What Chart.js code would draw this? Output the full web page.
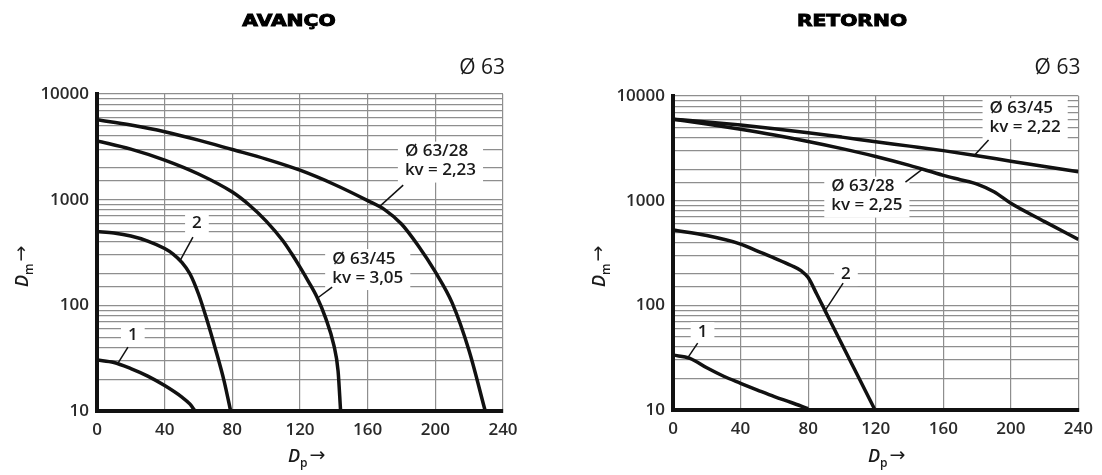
<!DOCTYPE html>
<html>
<head>
<meta charset="utf-8">
<script src="https://cdn.jsdelivr.net/npm/chart.js@4.4.0/dist/chart.umd.min.js"></script>
<style>
  body { margin: 0; background: #fff; width: 1102px; height: 475px; overflow: hidden; }
  .painel { position: absolute; top: 0; width: 551px; height: 475px; }
</style>
</head>
<body>
<div class="painel" style="left:0"><canvas id="avanco" width="551" height="475"></canvas></div>
<div class="painel" style="left:551px"><canvas id="retorno" width="551" height="475"></canvas></div>
<script>
// AVANÇO
const avX28 = [0, 20, 40, 60, 80, 100, 120, 140, 160, 170, 180, 190, 200, 210, 220, 229.5];
const avY28 = [5700, 5080, 4400, 3660, 2980, 2420, 1900, 1400, 980, 806, 588, 364, 207, 105, 37, 10];
const avX45 = [0, 20, 40, 60, 80, 90, 100, 110, 115, 120, 125, 130, 135, 140, 142.5, 144];
const avY45 = [3600, 3010, 2370, 1750, 1180, 890, 627, 406, 309, 230, 168, 120, 77, 42, 24, 10];
const avX2 = [0, 10, 20, 30, 40, 45, 50, 55, 60, 65, 70, 75, 79];
const avY2 = [499, 483, 453, 406, 345, 306, 257, 198, 128, 72.6, 38.6, 19.6, 10];
const avX1 = [0, 10, 20, 30, 40, 50, 55, 58];
const avY1 = [30.4, 28.8, 25.2, 21.4, 17.4, 13.6, 11.6, 10];

// RETORNO
const reX45 = [0, 20, 40, 60, 80, 100, 120, 140, 160, 180, 200, 220, 240];
const reY45 = [6000, 5650, 5272, 4864, 4457, 4046, 3656, 3319, 3006, 2692, 2382, 2118, 1888];
const reX28 = [0, 20, 40, 60, 80, 100, 120, 140, 160, 170, 180, 190, 200, 220, 240];
const reY28 = [6000, 5395, 4808, 4236, 3673, 3141, 2642, 2173, 1746, 1585, 1439, 1216, 944, 631, 427];
const reX2 = [0, 20, 40, 50, 60, 70, 76, 80, 85, 90, 100, 110, 119.6];
const reY2 = [524, 464, 385, 330, 283, 240, 213, 184, 129, 89, 42.4, 20.3, 10];
const reX1 = [0, 10, 20, 30, 40, 50, 60, 70, 80];
const reY1 = [33.5, 31.2, 25.3, 21, 18, 15.5, 13.4, 11.8, 10.3];

const xTicks = [0, 40, 80, 120, 160, 200, 240];
const yTicks = [10, 100, 1000, 10000];

// etiquetas das curvas (posição em unidades dos eixos)
const avNotas = [
  { lines: ['Ø 63/28', 'kv = 2,23'], x: 182, y: 2318, lead: [181, 1374, 167.3, 869] },
  { lines: ['Ø 63/45', 'kv = 3,05'], x: 139, y: 223, lead: [139, 149, 130.6, 118] },
  { lines: ['2'], x: 56.2, y: 601, lead: [56.7, 443, 49.1, 265] },
  { lines: ['1'], x: 18.3, y: 52.4, lead: [18.3, 40.3, 12.4, 28.4] }
];
const reNotas = [
  { lines: ['Ø 63/45', 'kv = 2,22'], x: 187.4, y: 6220, lead: [186.8, 3790, 178.6, 2725] },
  { lines: ['Ø 63/28', 'kv = 2,25'], x: 93.7, y: 1106, lead: [137.6, 1506, 147.5, 1990] },
  { lines: ['2'], x: 99.5, y: 199, lead: [100.7, 163, 90.2, 90] },
  { lines: ['1'], x: 14.6, y: 55.6, lead: [14.6, 43.6, 8.8, 31.6] }
];

const fonteNota = '600 17px "Open Sans"';

function eixoTitulo(ctx, x0, y0, sub, rodar) {
  ctx.save();
  ctx.translate(x0, y0);
  if (rodar) ctx.rotate(-Math.PI / 2);
  ctx.fillStyle = '#1a1a1a';
  ctx.textAlign = 'left';
  ctx.textBaseline = 'alphabetic';
  ctx.font = 'italic 600 18px "Open Sans"';
  ctx.fillText('D', 0, 0);
  let w = ctx.measureText('D').width;
  ctx.font = '600 12px "Open Sans"';
  ctx.fillText(sub, w, 5);
  w += ctx.measureText(sub).width + 2;
  ctx.font = '19px "DejaVu Sans"';
  ctx.fillText('→', w, -1);
  ctx.restore();
}

const textos = {
  id: 'textos',
  beforeDatasetsDraw(chart, args, opts) {
    const { ctx, scales: { x, y } } = chart;
    ctx.save();
    ctx.font = fonteNota;
    ctx.fillStyle = '#fff';
    opts.notas.forEach(n => {
      const px = x.getPixelForValue(n.x), py = y.getPixelForValue(n.y);
      const top = py - (n.lines.length - 1) * 19 / 2;
      const w = Math.max(...n.lines.map(t => ctx.measureText(t).width));
      ctx.fillRect(px - 7, top - 10, w + 14, (n.lines.length - 1) * 19 + 22);
    });
    ctx.restore();
  },
  afterDatasetsDraw(chart, args, opts) {
    const { ctx, scales: { x, y } } = chart;
    ctx.save();
    ctx.font = fonteNota;
    ctx.fillStyle = '#1a1a1a';
    ctx.textAlign = 'left';
    ctx.textBaseline = 'middle';
    opts.notas.forEach(n => {
      const px = x.getPixelForValue(n.x), py = y.getPixelForValue(n.y);
      const top = py - (n.lines.length - 1) * 19 / 2;
      n.lines.forEach((t, i) => ctx.fillText(t, px, top + i * 19));
      ctx.beginPath();
      ctx.moveTo(x.getPixelForValue(n.lead[0]), y.getPixelForValue(n.lead[1]));
      ctx.lineTo(x.getPixelForValue(n.lead[2]), y.getPixelForValue(n.lead[3]));
      ctx.lineWidth = 1.5;
      ctx.strokeStyle = '#111';
      ctx.stroke();
    });
    ctx.restore();
  },
  afterDraw(chart, args, opts) {
    const { ctx, chartArea: a } = chart;
    ctx.save();
    // título (letra pesada e larga)
    ctx.translate(opts.tituloX, 22);
    ctx.scale(1.35, 1);
    ctx.font = 'bold 15px "DejaVu Sans"';
    ctx.textAlign = 'center';
    ctx.textBaseline = 'middle';
    ctx.fillStyle = '#000';
    ctx.strokeStyle = '#000';
    ctx.lineWidth = 0.9;
    ctx.fillText(opts.titulo, 0, 0);
    ctx.strokeText(opts.titulo, 0, 0);
    ctx.restore();

    ctx.save();
    ctx.font = '21px "Open Sans"';
    ctx.textAlign = 'right';
    ctx.textBaseline = 'middle';
    ctx.fillStyle = '#1a1a1a';
    ctx.fillText('Ø 63', a.right + 2, 68);
    ctx.restore();

    eixoTitulo(ctx, opts.dmX, 287, 'm', true);
    eixoTitulo(ctx, opts.dpX, 462, 'p', false);
  }
};

function serie(xs, ys) {
  return {
    data: xs.map((v, i) => ({ x: v, y: ys[i] })),
    showLine: true,
    borderColor: '#111',
    borderWidth: 3.5,
    pointRadius: 0,
    cubicInterpolationMode: 'monotone',
    borderJoinStyle: 'round',
    fill: false
  };
}

const fonteTick = { family: 'Open Sans', size: 17, weight: '600' };
const grade = { color: '#8e8e8e', lineWidth: 1.2, drawTicks: false };

function grafico(id, datasets, cfg) {
  return new Chart(document.getElementById(id), {
    type: 'scatter',
    data: { datasets },
    options: {
      responsive: false,
      animation: false,
      events: [],
      layout: { padding: { top: cfg.top, right: cfg.right, left: 0, bottom: 0 } },
      plugins: {
        legend: { display: false },
        tooltip: { enabled: false },
        textos: cfg.textos
      },
      scales: {
        x: {
          type: 'linear', min: 0, max: 240,
          afterFit: s => { s.height = cfg.xh; },
          afterBuildTicks: s => { s.ticks = xTicks.map(v => ({ value: v })); },
          ticks: { padding: 9, color: '#2a2a2a', font: fonteTick, maxRotation: 0 },
          grid: grade,
          border: { color: '#111', width: 4 }
        },
        y: {
          type: 'logarithmic', min: 10, max: 10000,
          afterFit: s => { s.width = cfg.yw; },
          ticks: {
            autoSkip: false, padding: 8, color: '#2a2a2a', font: fonteTick,
            callback: v => yTicks.includes(v) ? String(v) : ''
          },
          grid: grade,
          border: { color: '#111', width: 4 }
        }
      }
    },
    plugins: [textos]
  });
}

grafico('avanco',
  [serie(avX28, avY28), serie(avX45, avY45), serie(avX2, avY2), serie(avX1, avY1)],
  { top: 94, right: 48, xh: 64, yw: 97,
    textos: { notas: avNotas, titulo: 'AVANÇO', tituloX: 289, dmX: 28, dpX: 288 } });

grafico('retorno',
  [serie(reX45, reY45), serie(reX28, reY28), serie(reX2, reY2), serie(reX1, reY1)],
  { top: 96, right: 19, xh: 65, yw: 122,
    textos: { notas: reNotas, titulo: 'RETORNO', tituloX: 301, dmX: 54, dpX: 317 } });
</script>
</body>
</html>
